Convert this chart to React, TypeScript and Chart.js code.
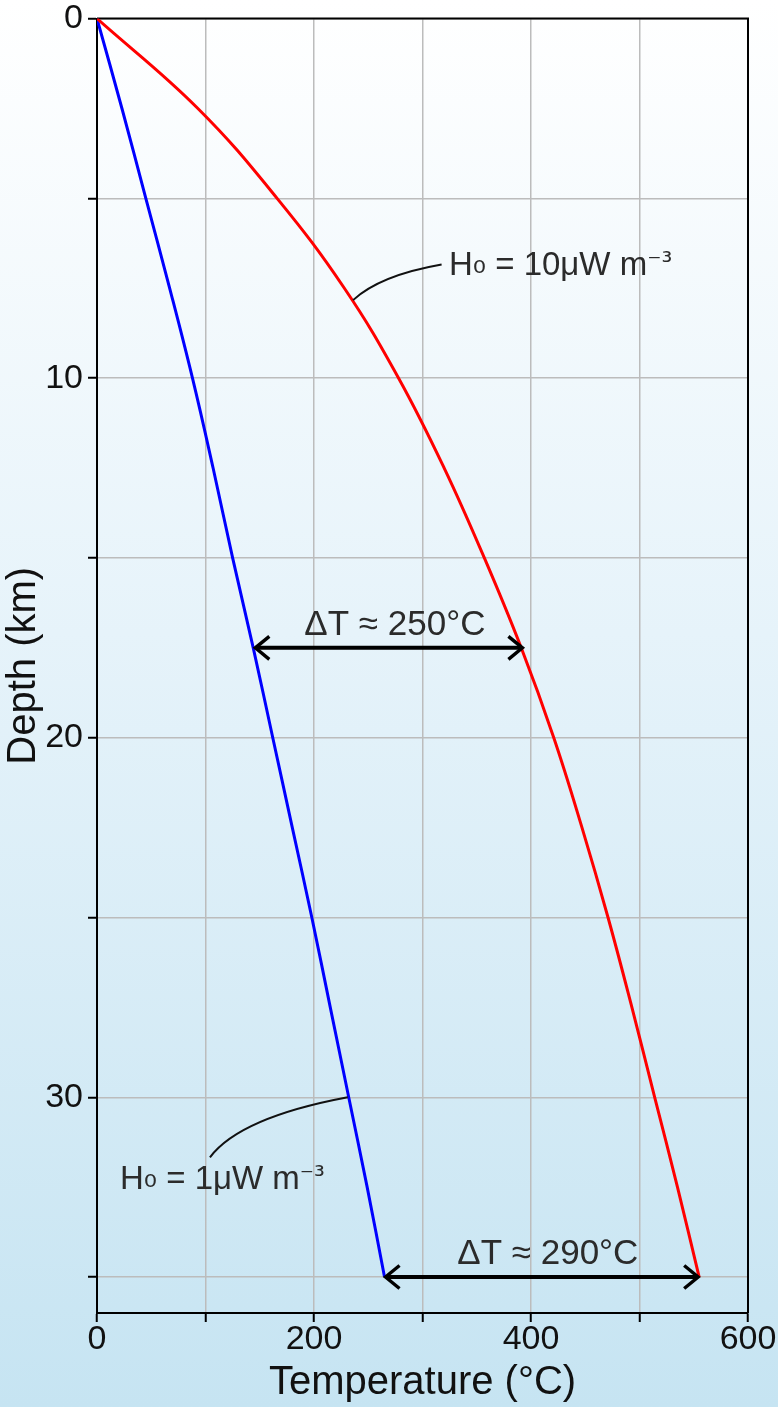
import React, { useEffect, useRef } from "react";
import { Chart, registerables } from "chart.js";

Chart.register(...registerables);

// Depth (km) at which temperatures are read
const depthKm = [0, 2.5, 5, 7.5, 10, 12.5, 15, 17.5, 20, 22.5, 25, 27.5, 30, 32.5, 35];
// Geotherm for H0 = 10 µW m-3 (°C)
const tempHighH = [0, 93, 166, 228, 278, 320, 357, 391, 421, 447, 471, 493, 514, 535, 555];
// Geotherm for H0 = 1 µW m-3 (°C)
const tempLowH = [0, 23, 45, 67, 88, 107, 125, 144, 162, 180, 198, 215, 232, 249, 265];

// Tick labels
const xTickLabels = [0, 200, 400, 600];
const yTickLabels = [0, 10, 20, 30];

// Temperature difference annotations
const deltaTexts = ["ΔT ≈ 250°C", "ΔT ≈ 290°C"];
const deltaDepths = [17.5, 35];
const deltaFrom = [145, 265];
const deltaTo = [393, 555];

const FONT = '"Liberation Sans", Arial, sans-serif';

type Part = { text: string; font: string; dy?: number };

function drawRich(ctx: CanvasRenderingContext2D, x: number, y: number, parts: Part[]) {
  let cx = x;
  for (const p of parts) {
    ctx.font = p.font;
    ctx.fillText(p.text, cx, y + (p.dy || 0));
    cx += ctx.measureText(p.text).width;
  }
}

const overlay = {
  id: "overlay",
  beforeDatasetsDraw(chart: any) {
    const { ctx, chartArea } = chart;
    ctx.save();
    ctx.strokeStyle = "#000";
    ctx.lineWidth = 2;
    ctx.beginPath();
    ctx.moveTo(chartArea.left, chartArea.top);
    ctx.lineTo(chartArea.right, chartArea.top);
    ctx.lineTo(chartArea.right, chartArea.bottom);
    ctx.stroke();
    ctx.restore();
  },
  afterDatasetsDraw(chart: any) {
    const { ctx } = chart;
    const xs = chart.scales.x;
    const ys = chart.scales.y;
    const P = (t: number, z: number) => [xs.getPixelForValue(t), ys.getPixelForValue(z)];
    ctx.save();

    // arrows
    for (let i = 0; i < deltaTexts.length; i++) {
      const [x1, y] = P(deltaFrom[i], deltaDepths[i]);
      const [x2] = P(deltaTo[i], deltaDepths[i]);
      ctx.strokeStyle = "#000";
      ctx.lineWidth = 4;
      ctx.beginPath();
      ctx.moveTo(x1 + 2, y);
      ctx.lineTo(x2 - 2, y);
      ctx.stroke();
      ctx.lineWidth = 3.4;
      ctx.lineJoin = "miter";
      ctx.beginPath();
      ctx.moveTo(x1 + 15, y - 11.5);
      ctx.lineTo(x1 + 1, y);
      ctx.lineTo(x1 + 15, y + 11.5);
      ctx.stroke();
      ctx.beginPath();
      ctx.moveTo(x2 - 15, y - 11.5);
      ctx.lineTo(x2 - 1, y);
      ctx.lineTo(x2 - 15, y + 11.5);
      ctx.stroke();
      ctx.fillStyle = "#2b2b2b";
      ctx.font = `35px ${FONT}`;
      ctx.textAlign = "center";
      ctx.textBaseline = "alphabetic";
      ctx.fillText(deltaTexts[i], (x1 + x2) / 2 + 6, y - 13);
    }

    // leader lines
    ctx.strokeStyle = "#111";
    ctx.lineWidth = 2;
    {
      const [sx, sy] = P(236, 7.83);
      const [cx, cy] = P(260.8, 7.14);
      const [ex, ey] = P(317.6, 6.84);
      ctx.beginPath();
      ctx.moveTo(sx, sy);
      ctx.quadraticCurveTo(cx, cy, ex, ey);
      ctx.stroke();
    }
    {
      const [sx, sy] = P(104.1, 31.67);
      const [cx, cy] = P(131.8, 30.56);
      const [ex, ey] = P(231.1, 30.0);
      ctx.beginPath();
      ctx.moveTo(sx, sy);
      ctx.quadraticCurveTo(cx, cy, ex, ey);
      ctx.stroke();
    }

    // curve labels
    ctx.fillStyle = "#2b2b2b";
    ctx.textAlign = "left";
    ctx.textBaseline = "alphabetic";
    const main = `33px ${FONT}`;
    const sub = `33px "DejaVu Sans"`;
    const sup = `27px "DejaVu Sans"`;
    {
      const [x, y] = P(324.4, 7.14);
      drawRich(ctx, x, y, [
        { text: "H", font: main },
        { text: "₀", font: sub, dy: -2 },
        { text: " = 10μW m", font: main },
        { text: "⁻³", font: sup, dy: -4 },
      ]);
    }
    {
      const [x, y] = P(21.2, 32.56);
      drawRich(ctx, x, y, [
        { text: "H", font: main },
        { text: "₀", font: sub, dy: -2 },
        { text: " = 1μW m", font: main },
        { text: "⁻³", font: sup, dy: -4 },
      ]);
    }
    ctx.restore();
  },
};

export default function App() {
  const ref = useRef<HTMLCanvasElement>(null);
  useEffect(() => {
    document.body.style.margin = "0";
    const canvas = ref.current!;
    const chart = new Chart(canvas, {
      type: "scatter",
      data: {
        datasets: [
          {
            label: "H0 = 10",
            data: depthKm.map((z, i) => ({ x: tempHighH[i], y: z })),
            showLine: true,
            borderColor: "#ff0000",
            borderWidth: 3,
            pointRadius: 0,
            tension: 0.4,
          },
          {
            label: "H0 = 1",
            data: depthKm.map((z, i) => ({ x: tempLowH[i], y: z })),
            showLine: true,
            borderColor: "#0000ff",
            borderWidth: 3,
            pointRadius: 0,
            tension: 0.4,
          },
        ],
      },
      options: {
        animation: false,
        responsive: false,
        maintainAspectRatio: false,
        layout: { padding: { left: 0, top: 18, right: 30, bottom: 0 } },
        plugins: { legend: { display: false }, tooltip: { enabled: false } },
        scales: {
          x: {
            type: "linear",
            position: "bottom",
            min: 0,
            max: 600,
            afterFit: (s: any) => {
              s.height = 94;
            },
            border: { color: "#000", width: 2 },
            grid: {
              color: "#bcbcbc",
              lineWidth: 1.5,
              drawTicks: true,
              tickLength: 9,
              tickColor: "#000",
              tickWidth: 2,
            },
            ticks: {
              stepSize: 100,
              autoSkip: false,
              maxRotation: 0,
              padding: 1,
              color: "#111",
              font: { family: FONT, size: 34, lineHeight: 1 },
              callback: (v: any) => (xTickLabels.includes(Number(v)) ? String(v) : ""),
            },
            title: {
              display: true,
              text: "Temperature (°C)",
              color: "#111",
              font: { family: FONT, size: 40 },
              padding: { top: 0, bottom: 0 },
            },
          },
          y: {
            type: "linear",
            reverse: true,
            min: 0,
            max: 36,
            afterFit: (s: any) => {
              s.width = 97;
            },
            afterBuildTicks: (s: any) => {
              s.ticks = s.ticks.filter((t: any) => t.value % 5 === 0);
            },
            border: { color: "#000", width: 2 },
            grid: {
              color: "#bcbcbc",
              lineWidth: 1.5,
              drawTicks: true,
              tickLength: 9,
              tickColor: "#000",
              tickWidth: 2,
            },
            ticks: {
              stepSize: 5,
              autoSkip: false,
              padding: 5,
              color: "#111",
              font: { family: FONT, size: 34, lineHeight: 0.8 },
              callback: (v: any) => (yTickLabels.includes(Number(v)) ? String(v) : ""),
            },
            title: {
              display: true,
              text: "Depth (km)",
              color: "#111",
              font: { family: FONT, size: 40 },
              padding: { top: 0, bottom: 0 },
            },
          },
        },
      },
      plugins: [overlay],
    } as any);
    return () => chart.destroy();
  }, []);
  return (
    <div
      style={{
        position: "fixed",
        left: 0,
        top: 0,
        width: 778,
        height: 1407,
        background: "linear-gradient(to bottom, #ffffff 0%, #e6f3fa 45%, #c6e4f2 100%)",
      }}
    >
      <canvas ref={ref} width={778} height={1407} style={{ display: "block", width: 778, height: 1407 }} />
    </div>
  );
}
